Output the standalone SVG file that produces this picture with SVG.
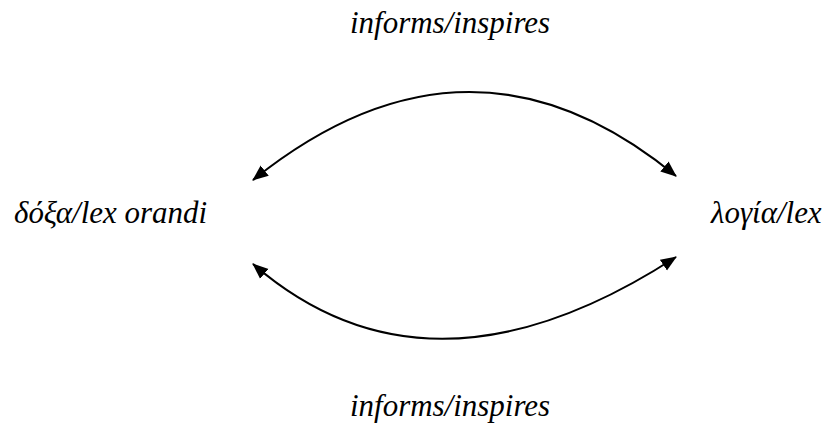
<svg xmlns="http://www.w3.org/2000/svg" width="827" height="429" viewBox="0 0 827 429">
<style>
.c{fill:none;stroke:#000;stroke-width:2}
</style>
<defs>
<marker id="ah" markerUnits="userSpaceOnUse" markerWidth="16" markerHeight="14" refX="15" refY="6.5" orient="auto-start-reverse" viewBox="0 0 16 13">
<path d="M0,0 L16,6.5 L0,13 z" fill="#000"/>
</marker>
</defs>
<g id="connectors">
<path class="c" d="M253,180 Q469.5,6 676,176" marker-start="url(#ah)" marker-end="url(#ah)"/>
<path class="c" d="M253,264 Q429.5,417 676,257" marker-start="url(#ah)" marker-end="url(#ah)"/>
</g>
<g font-family="Liberation Serif" font-style="italic" font-size="24" fill="#000">
<g id="doxa"><text transform="translate(14,223) scale(1.29)">δόξα/lex orandi</text></g>
<g id="logia"><text transform="translate(711,223) scale(1.29)">λογία/lex</text></g>
<g id="label-top"><text transform="translate(350,33) scale(1.29)">informs/inspires</text></g>
<g id="label-bottom"><text transform="translate(350,416) scale(1.29)">informs/inspires</text></g>
</g>
</svg>
